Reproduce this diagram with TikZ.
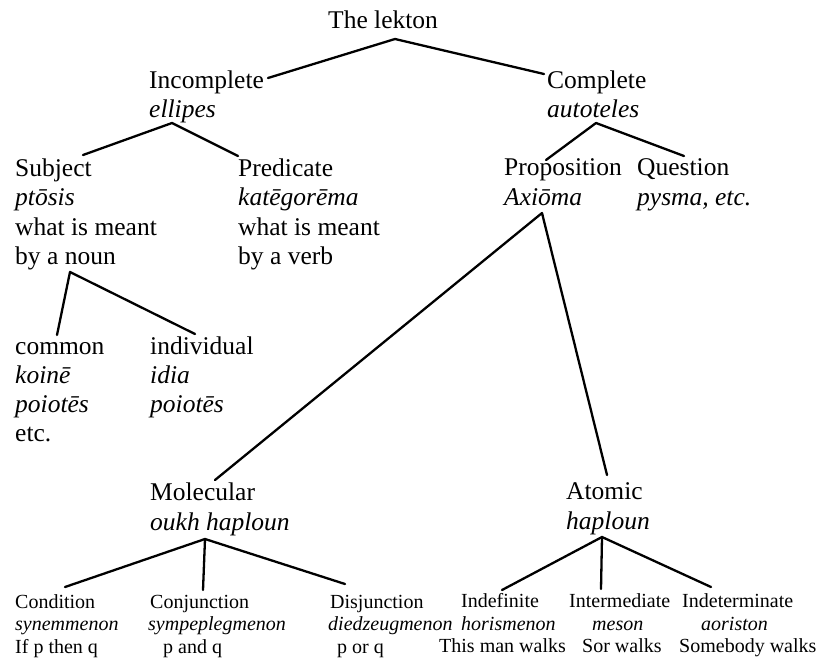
\documentclass[tikz,border=0pt]{standalone}
\usepackage{fontspec}
\setmainfont{Liberation Serif}
\begin{document}
\begin{tikzpicture}[x=1pt,y=-1pt,
  t/.style={anchor=base west, inner sep=0pt, font=\fontsize{25.5}{29}\selectfont},
  g/.style={anchor=base west, inner sep=0pt, font=\fontsize{25.5}{29}\selectfont\itshape},
  ts/.style={anchor=base west, inner sep=0pt, font=\fontsize{20}{22}\selectfont},
  gs/.style={anchor=base west, inner sep=0pt, font=\fontsize{20}{22}\selectfont\itshape},
  link/.style={line width=2.3pt, line join=round, line cap=round}]
\useasboundingbox (0,0) rectangle (818,664);

% root
\node[t] (lekton) at (328,28) {The lekton};

% second level
\node[t] (inc)   at (149,88)  {Incomplete};
\node[g] (incG)  at (149,117) {ellipes};
\node[t] (comp)  at (547,88)  {Complete};
\node[g] (compG) at (547,117) {autoteles};

% incomplete branch
\node[t] (subj)   at (15,176) {Subject};
\node[g] (subjG)  at (15,205) {ptōsis};
\node[t] (subjA)  at (15,235) {what is meant};
\node[t] (subjB)  at (15,264) {by a noun};
\node[t] (pred)   at (238,176) {Predicate};
\node[g] (predG)  at (238,205) {katēgorēma};
\node[t] (predA)  at (238,235) {what is meant};
\node[t] (predB)  at (238,264) {by a verb};

\node[t] (comm)   at (15,354) {common};
\node[g] (commG)  at (15,383) {koinē};
\node[g] (commP)  at (15,412) {poiotēs};
\node[t] (commE)  at (15,441) {etc.};
\node[t] (indiv)  at (150,354) {individual};
\node[g] (indivG) at (150,383) {idia};
\node[g] (indivP) at (150,412) {poiotēs};

% complete branch
\node[t] (prop)   at (504,175) {Proposition};
\node[g] (propG)  at (504,205) {Axiōma};
\node[t] (quest)  at (637,175) {Question};
\node[g] (questG) at (637,205) {pysma, etc.};

\node[t] (mol)    at (150,500) {Molecular};
\node[g] (molG)   at (150,530) {oukh haploun};
\node[t] (atom)   at (566,499) {Atomic};
\node[g] (atomG)  at (566,529) {haploun};

% molecular kinds
\node[ts] (cond)   at (15,608)  {Condition};
\node[gs] (condG)  at (15,630)  {synemmenon};
\node[ts] (condE)  at (15,653)  {If p then q};
\node[ts] (conj)   at (150,608) {Conjunction};
\node[gs] (conjG)  at (148,630) {sympeplegmenon};
\node[ts] (conjE)  at (163,653) {p and q};
\node[ts] (disj)   at (330,608) {Disjunction};
\node[gs] (disjG)  at (328,630) {diedzeugmenon};
\node[ts] (disjE)  at (337,653) {p or q};

% atomic kinds
\node[ts] (indf)   at (461,607) {Indefinite};
\node[gs] (indfG)  at (461,630) {horismenon};
\node[ts] (indfE)  at (439,652) {This man walks};
\node[ts] (inter)  at (569,607) {Intermediate};
\node[gs] (interG) at (592,630) {meson};
\node[ts] (interE) at (582,652) {Sor walks};
\node[ts] (indt)   at (682,607) {Indeterminate};
\node[gs] (indtG)  at (701,630) {aoriston};
\node[ts] (indtE)  at (679,652) {Somebody walks};

% branching points
\coordinate (jRoot) at (395,39);
\coordinate (jInc)  at (172,123);
\coordinate (jComp) at (596,123);
\coordinate (jSubj) at (70,272);
\coordinate (jProp) at (542,213);
\coordinate (jMol)  at (205,539);
\coordinate (jAtom) at (602,537);

% line ends at the child labels
\coordinate (eInc)   at (268,78);
\coordinate (eComp)  at (544,74);
\coordinate (eSubj)  at (83,155);
\coordinate (ePred)  at (238,156);
\coordinate (eProp)  at (546,160);
\coordinate (eQuest) at (684,156);
\coordinate (eComm)  at (57,335);
\coordinate (eIndiv) at (195,334);
\coordinate (eMol)   at (215,480);
\coordinate (eAtom)  at (607,475);
\coordinate (eCond)  at (65,587);
\coordinate (eConj)  at (203,590);
\coordinate (eDisj)  at (345,584);
\coordinate (eIndf)  at (502,590);
\coordinate (eInter) at (601,589);
\coordinate (eIndt)  at (711,587);

\draw[link] (eInc) -- (jRoot) -- (eComp);
\draw[link] (eSubj) -- (jInc) -- (ePred);
\draw[link] (eProp) -- (jComp) -- (eQuest);
\draw[link] (eComm) -- (jSubj) -- (eIndiv);
\draw[link] (eMol) -- (jProp) -- (eAtom);
\draw[link] (eCond) -- (jMol) -- (eDisj);
\draw[link] (jMol) -- (eConj);
\draw[link] (eIndf) -- (jAtom) -- (eIndt);
\draw[link] (jAtom) -- (eInter);
\end{tikzpicture}
\end{document}
